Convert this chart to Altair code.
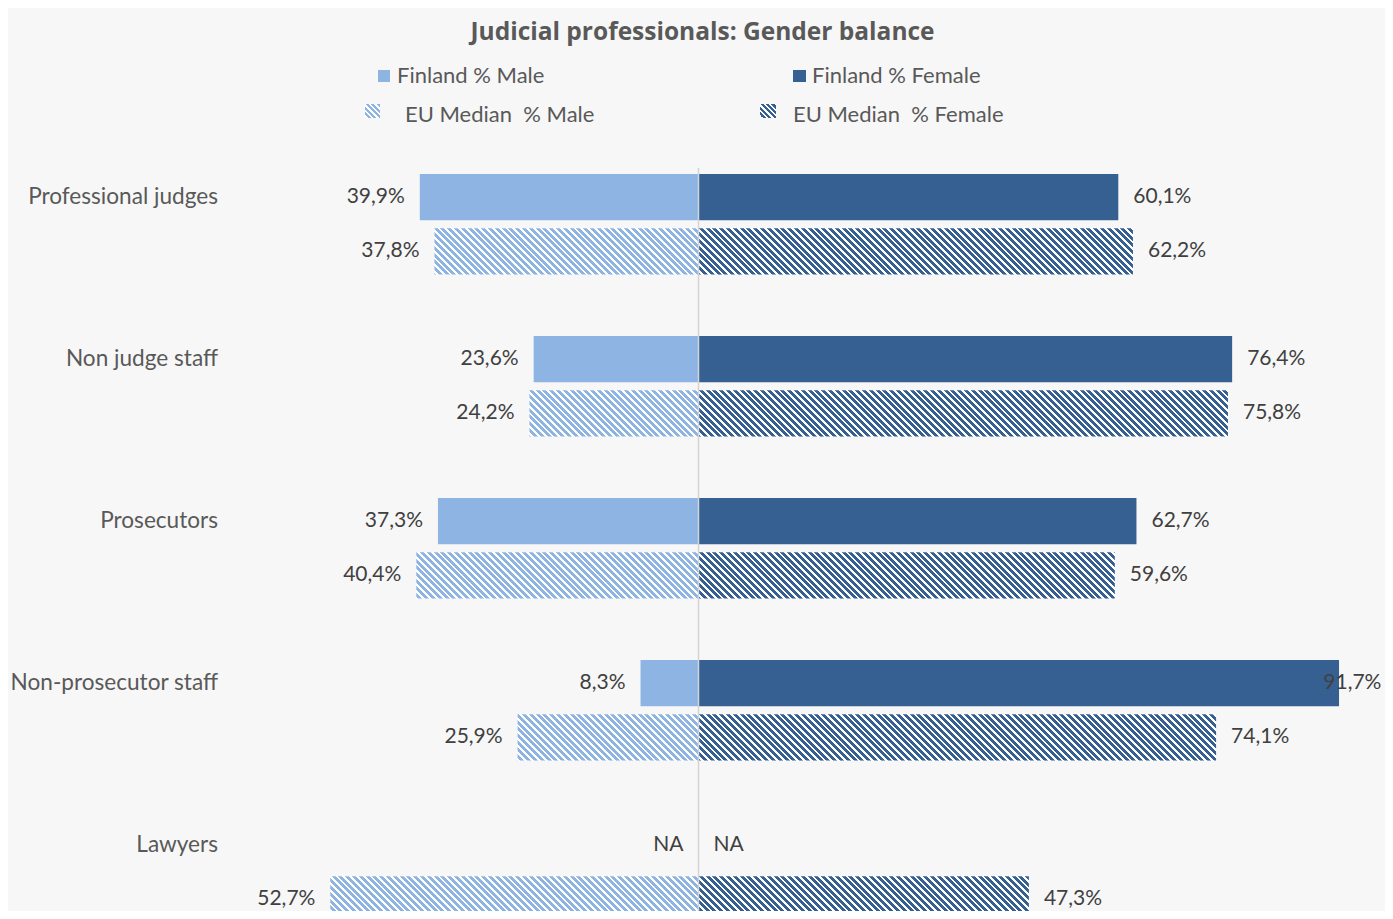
import math
import altair as alt

# ---------------- data ----------------
categories = ["Professional judges", "Non judge staff", "Prosecutors",
              "Non-prosecutor staff", "Lawyers"]
series = ["Finland", "EU Median"]
finland_male = [39.9, 23.6, 37.3, 8.3, None]
finland_female = [60.1, 76.4, 62.7, 91.7, None]
eu_male = [37.8, 24.2, 40.4, 25.9, 52.7]
eu_female = [62.2, 75.8, 59.6, 74.1, 47.3]
legend_labels = ["Finland % Male", "Finland % Female",
                 "EU Median\u00a0 % Male", "EU Median\u00a0 % Female"]

# ---------------- style ----------------
W, H = 1377, 903
PX = 6.985                      # pixels per percentage point
XMIN = -690.5 / PX
XMAX = XMIN + W / PX
LIGHT = "#8EB4E3"
DARK = "#366092"
BG = "#F7F7F7"
FONT = "Lato"
TXT = "#404040"
TXT2 = "#595959"
Y_RANGE = [166, 914.5]
P_IN, P_IN2 = 0.38, 0.147
_step = (Y_RANGE[1] - Y_RANGE[0]) / (len(categories) - P_IN)
_bw = _step * (1 - P_IN)
BAR_H = _bw / (2 - P_IN2) * (1 - P_IN2)
LABEL_MAX = 87.3                # keep right-hand labels inside the chart
PERIOD, DUTY = 6.8, 0.6         # hatch pattern (pixels)
CELL = 3 * PERIOD


def hatch(x0, w, h, color, bg="#FFFFFF", p=PERIOD, duty=DUTY):
    """Diagonal stripe gradient for a rect whose left edge is x0 px from the zero line."""
    total = w + h
    k = total / (w * w + h * h)
    g0, g1 = x0 - h, x0 + w
    d = p * duty
    stops = []
    g = math.floor(g0 / p) * p
    while g < g1:
        for ga, gb, col in ((g, g + d, color), (g + d, g + p, bg)):
            a = min(max((ga - g0) / total, 0.0), 1.0)
            b = min(max((gb - g0) / total, 0.0), 1.0)
            if b > a:
                stops += [{"offset": round(a, 5), "color": col},
                          {"offset": round(b, 5), "color": col}]
        g += p
    return {"gradient": "linear", "x1": 0, "y1": 1,
            "x2": k * w, "y2": 1 - k * h, "stops": stops}


def fmt(v):
    return "NA" if v is None else f"{v:.1f}".replace(".", ",") + "%"


solid, cells, labels = [], [], []
for i, cat in enumerate(categories):
    for s, m, f in (("Finland", finland_male[i], finland_female[i]),
                    ("EU Median", eu_male[i], eu_female[i])):
        for sex, v in (("Male", m), ("Female", f)):
            labels.append({"category": cat, "series": s, "sex": sex,
                           "value": 0 if v is None else v, "label": fmt(v)})
            if v is None:
                continue
            sign = -1 if sex == "Male" else 1
            if s == "Finland":
                solid.append({"category": cat, "series": s, "sex": sex, "a": 0, "b": sign * v})
                continue
            # hatched bar drawn as short cells so every stripe gradient stays crisp
            wb = v * PX
            n = int(math.ceil(wb / CELL - 1e-9))
            for j in range(n):
                a_px = j * CELL
                b_px = min((j + 1) * CELL + (0.6 if j < n - 1 else 0), wb)
                lo, hi = (a_px, b_px) if sign > 0 else (-b_px, -a_px)
                cells.append({"category": cat, "series": s, "sex": sex,
                              "a": lo / PX, "b": hi / PX,
                              "grad": hatch(lo, hi - lo, BAR_H,
                                            LIGHT if sex == "Male" else DARK)})

ysc = alt.Scale(domain=categories, range=Y_RANGE, paddingInner=P_IN, paddingOuter=0)
yosc = alt.Scale(domain=series, paddingInner=P_IN2, paddingOuter=0)
xsc = alt.Scale(domain=[XMIN, XMAX], nice=False, zero=False)

fin_bars = alt.Chart(alt.Data(values=solid)).mark_bar().encode(
    x=alt.X("a:Q", scale=xsc, axis=None),
    x2="b:Q",
    y=alt.Y("category:N", scale=ysc, axis=None),
    yOffset=alt.YOffset("series:N", scale=yosc),
    fill=alt.Fill("sex:N", scale=alt.Scale(domain=["Male", "Female"], range=[LIGHT, DARK]),
                  legend=None))

eu_bars = alt.Chart(alt.Data(values=cells)).mark_bar().encode(
    x=alt.X("a:Q", scale=xsc, axis=None),
    x2="b:Q",
    y=alt.Y("category:N", scale=ysc, axis=None),
    yOffset=alt.YOffset("series:N", scale=yosc),
    fill=alt.Fill("grad:N", scale=None))

center = alt.Chart(alt.Data(values=[{"z": 0}])).mark_rule(
    color="#D4D4D4", strokeWidth=1.5).encode(
    x=alt.X("z:Q", scale=xsc), y=alt.value(160), y2=alt.value(H))

lab_base = alt.Chart(alt.Data(values=labels)).encode(
    y=alt.Y("category:N", scale=ysc),
    yOffset=alt.YOffset("series:N", scale=yosc),
    text="label:N",
)
left_labels = lab_base.transform_filter("datum.sex == 'Male'").transform_calculate(
    pos="-datum.value").mark_text(
    align="right", baseline="middle", dx=-15, font=FONT, fontSize=21, color=TXT
).encode(x=alt.X("pos:Q", scale=xsc))
right_labels = lab_base.transform_filter("datum.sex == 'Female'").transform_calculate(
    pos=f"min(datum.value, {LABEL_MAX})").mark_text(
    align="left", baseline="middle", dx=15, font=FONT, fontSize=21, color=TXT
).encode(x=alt.X("pos:Q", scale=xsc))

cat_labels = alt.Chart(alt.Data(values=[{"category": c, "series": "Finland"} for c in categories])
                       ).mark_text(align="right", baseline="middle", font=FONT,
                                   fontSize=22.6, color=TXT2).encode(
    x=alt.value(210), y=alt.Y("category:N", scale=ysc),
    yOffset=alt.YOffset("series:N", scale=yosc), text="category:N")

title = alt.Chart(alt.Data(values=[{"t": "Judicial professionals: Gender balance"}])).mark_text(
    align="center", baseline="middle", font="Open Sans", fontSize=24.5, fontWeight="bold",
    color=TXT2
).encode(x=alt.value(694.5), y=alt.value(25), text="t:N")


def legend_item(label, sx0, sx1, sy0, sy1, fill, tx, ty):
    sw = alt.Chart(alt.Data(values=[{"l": label}])).mark_rect(fill=fill).encode(
        x=alt.value(sx0), x2=alt.value(sx1), y=alt.value(sy0), y2=alt.value(sy1))
    tt = alt.Chart(alt.Data(values=[{"l": label}])).mark_text(
        align="left", baseline="middle", font=FONT, fontSize=22, color=TXT2).encode(
        x=alt.value(tx), y=alt.value(ty), text="l:N")
    return sw + tt


leg = (legend_item(legend_labels[0], 370, 382, 62, 74, LIGHT, 389, 68)
       + legend_item(legend_labels[1], 785, 798, 62, 74, DARK, 804, 68)
       + legend_item(legend_labels[2], 357, 372, 96, 110,
                     hatch(0, 15, 14, LIGHT, p=5.5), 397, 107)
       + legend_item(legend_labels[3], 752, 768, 96, 110,
                     hatch(0, 16, 14, DARK, p=5.5), 785, 107))

chart = alt.layer(fin_bars, eu_bars, center, left_labels, right_labels, cat_labels,
                  title, leg).properties(
    width=W, height=H, background=BG, padding=0,
    autosize=alt.AutoSizeParams(type="none"),
).configure_view(stroke=None)

chart.save("out.html", embed_options={"renderer": "svg", "actions": False})
